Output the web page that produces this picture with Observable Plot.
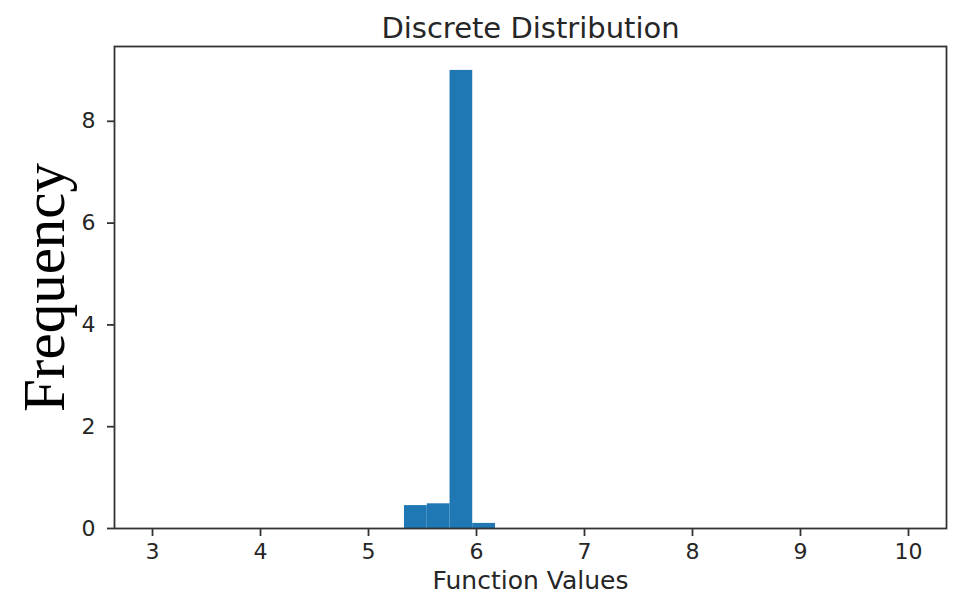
<!DOCTYPE html>
<html>
<head>
<meta charset="utf-8">
<script src="https://cdn.jsdelivr.net/npm/d3@7"></script>
<script src="https://cdn.jsdelivr.net/npm/@observablehq/plot@0.6"></script>
<style>
  html, body { margin: 0; padding: 0; background: white; }
</style>
</head>
<body>
<div id="chart"></div>
<script>
const binStart = [5.333, 5.544, 5.755, 5.965];
const binEnd   = [5.544, 5.755, 5.965, 6.176];
const freq     = [0.45, 0.485, 9.0, 0.1];
const xTicks = [3, 4, 5, 6, 7, 8, 9, 10];
const yTicks = [0, 2, 4, 6, 8];
const title = "Discrete Distribution";
const xLabel = "Function Values";
const yLabel = "Frequency";

const bins = binStart.map((s, i) => ({x1: s, x2: binEnd[i], y: freq[i]}));

const chart = Plot.plot({
  width: 958,
  height: 595,
  marginLeft: 114,
  marginRight: 12,
  marginTop: 46,
  marginBottom: 67,
  style: {fontFamily: "DejaVu Sans", fontSize: "22px", color: "#262626", background: "white"},
  x: {domain: [2.648, 10.352]},
  y: {domain: [0, 9.47]},
  marks: [
    Plot.rectY(bins, {x1: "x1", x2: "x2", y: "y", fill: "#1f77b4", inset: 0}),
    Plot.frame({stroke: "#333", strokeWidth: 1.8}),
    Plot.axisX({ticks: xTicks, tickSize: 8, tickPadding: 7, label: null, tickFormat: d => String(d), stroke: "#333", strokeWidth: 1.8, fill: "#262626", fontSize: 22}),
    Plot.axisY({ticks: yTicks, tickSize: 7, tickPadding: 12, label: null, tickFormat: d => String(d), stroke: "#333", strokeWidth: 1.8, fill: "#262626", fontSize: 22}),
    Plot.text([title], {text: d => d, frameAnchor: "top", dy: -29, fontSize: 29, fill: "#262626"}),
    Plot.text([xLabel], {text: d => d, frameAnchor: "bottom", dy: 60, fontSize: 25, fill: "#262626"}),
    Plot.text([yLabel], {text: d => d, frameAnchor: "left", textAnchor: "middle", dx: -69, rotate: -90, fontSize: 59, fontFamily: "Liberation Serif", fill: "black"})
  ]
});
document.getElementById("chart").appendChild(chart);
</script>
</body>
</html>
